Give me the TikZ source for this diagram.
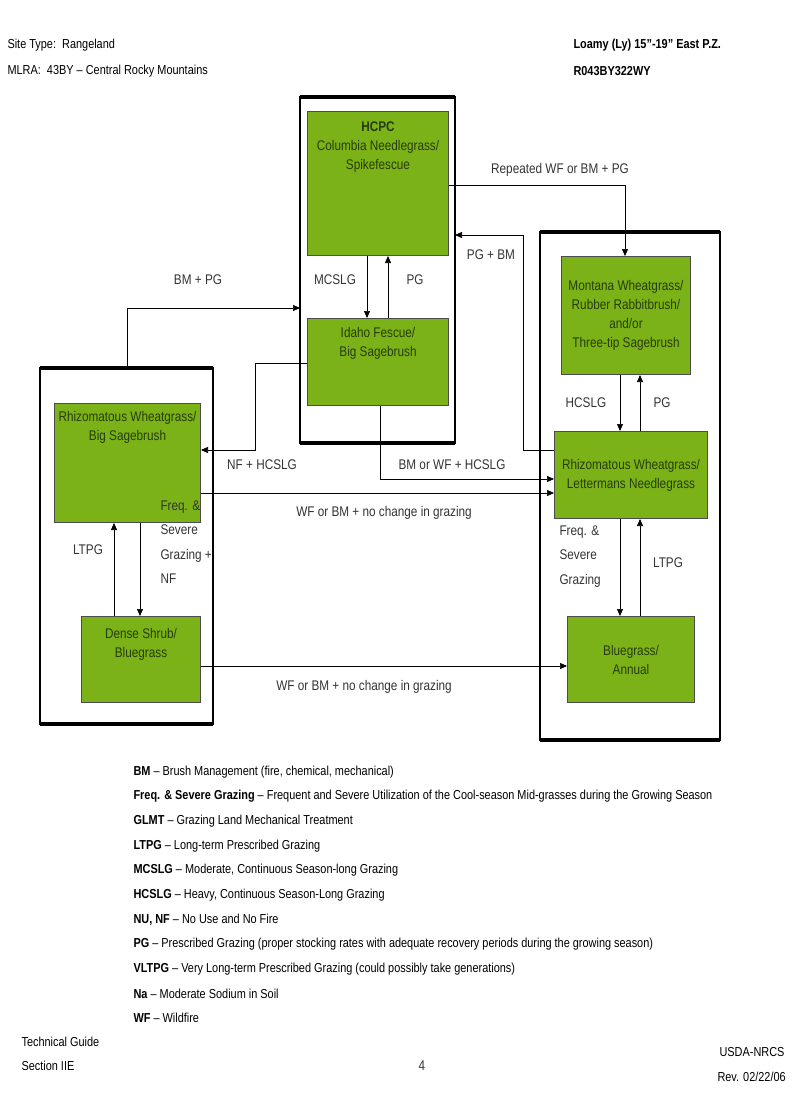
\documentclass[tikz,border=0pt]{standalone}
\usepackage{fontspec}
\setmainfont{Liberation Sans}[FakeStretch=0.84]
\usetikzlibrary{arrows.meta}
\definecolor{statefill}{RGB}{122,178,24}
\definecolor{statetext}{RGB}{40,60,10}
\tikzset{
  state/.style = {draw = black!70, fill = statefill, text = statetext, align = center, font = \fontsize{14}{19}\selectfont, line width = 1pt},
  phase/.style = {draw = black, line width = 1.6pt},
  tran/.style = {-{Triangle[length=7pt,width=6pt]}, line width = 0.6pt},
  lbl/.style = {font = \fontsize{14}{19}\selectfont, text = black!80},
  leg/.style = {anchor = west, font = \fontsize{13}{16}\selectfont}
}
\newcommand\phasebox[4]{%
  \draw [phase] (#1,#2) rectangle (#3,#4);
  \draw [line width = 4pt] (#1,#2) -- (#3,#2);
  \draw [line width = 4pt] (#1,#4) -- (#3,#4);
}
\begin{document}
\begin{tikzpicture}[x=1pt, y=-1pt]
\useasboundingbox (0,0) rectangle (800,1108);
% header
\node [leg] at (4,45) {Site Type:\ \ Rangeland};
\node [leg] at (4,71) {MLRA:\ \ 43BY -- Central Rocky Mountains};
\node [leg, font = \bfseries\fontsize{13}{16}\selectfont] at (570,45) {Loamy (Ly) 15”-19” East P.Z.};
\node [leg, font = \bfseries\fontsize{13}{16}\selectfont] at (570,71) {R043BY322WY};
% phases
\phasebox{300}{97}{455}{443}
\phasebox{540}{232}{720}{740}
\phasebox{40}{368}{213}{724}
% states
\node [state, minimum width = 141pt, minimum height = 144pt, anchor = north west] (hcpc) at (307,111) {\textbf{HCPC}\\Columbia Needlegrass/\\Spikefescue\\[56pt]};
\node [state, minimum width = 141pt, minimum height = 87pt, anchor = north west] (idaho) at (307,318) {Idaho Fescue/\\Big Sagebrush\\[22pt]};
\node [state, minimum width = 129pt, minimum height = 118pt, anchor = north west] (montana) at (561,256) {Montana Wheatgrass/\\Rubber Rabbitbrush/\\and/or\\Three-tip Sagebrush};
\node [state, minimum width = 153pt, minimum height = 87pt, anchor = north west] (letter) at (554,431) {Rhizomatous Wheatgrass/\\Lettermans Needlegrass};
\node [state, minimum width = 127pt, minimum height = 86pt, anchor = north west] (annual) at (567,616) {Bluegrass/\\Annual};
\node [state, minimum width = 146pt, minimum height = 119pt, anchor = north west] (rhizo) at (54,403) {Rhizomatous Wheatgrass/\\Big Sagebrush\\[56pt]};
\node [state, minimum width = 119pt, minimum height = 86pt, anchor = north west] (shrub) at (81,616) {Dense Shrub/\\Bluegrass\\[14pt]};
\coordinate (ctrleft) at (300,308);
\coordinate (ctrright) at (455,235);
\coordinate (leftop) at (127,368);
% transitions
\draw [tran] (hcpc.south -| 367,0) -- (idaho.north -| 367,0);
\draw [tran] (idaho.north -| 388,0) -- (hcpc.south -| 388,0);
\node [lbl] at (335,280) {MCSLG};
\node [lbl] at (415,280) {PG};
\draw [tran] (hcpc.east |- 0,185) -| (montana.north -| 625,0);
\node [lbl] at (560,170) {Repeated WF or BM + PG};
\draw [tran] (letter.west |- 0,450) -- (523,450) |- (ctrright);
\node [lbl] at (491,255) {PG + BM};
\draw [tran] (leftop) |- (ctrleft);
\node [lbl] at (198,280) {BM + PG};
\draw [tran] (idaho.west |- 0,363) -- (255,363) |- (rhizo.east |- 0,450);
\node [lbl] at (262,465) {NF + HCSLG};
\draw [tran] (idaho.south -| 380,0) |- (letter.west |- 0,479);
\node [lbl] at (452,465) {BM or WF + HCSLG};
\draw [tran] (rhizo.east |- 0,493) -- (letter.west |- 0,493);
\node [lbl] at (384,513) {WF or BM + no change in grazing};
\draw [tran] (rhizo.south -| 140,0) -- (shrub.north -| 140,0);
\draw [tran] (shrub.north -| 114,0) -- (rhizo.south -| 114,0);
\node [lbl] at (88,550) {LTPG};
\node [lbl, align = left, anchor = north west, font = \fontsize{14}{24.5}\selectfont] at (157,497) {Freq. \&\\Severe\\Grazing +\\NF};
\draw [tran] (shrub.east |- 0,666) -- (annual.west |- 0,666);
\node [lbl] at (364,687) {WF or BM + no change in grazing};
\draw [tran] (letter.north -| 640,0) -- (montana.south -| 640,0);
\draw [tran] (montana.south -| 620,0) -- (letter.north -| 620,0);
\node [lbl] at (586,403) {HCSLG};
\node [lbl] at (662,403) {PG};
\draw [tran] (letter.south -| 620,0) -- (annual.north -| 620,0);
\draw [tran] (annual.north -| 640,0) -- (letter.south -| 640,0);
\node [lbl, align = left, anchor = north west, font = \fontsize{14}{24.5}\selectfont] at (556,522) {Freq. \&\\Severe\\Grazing};
\node [lbl] at (668,563) {LTPG};
% legend
\foreach \k/\t [count = \i from 0] in {
  BM/{Brush Management (fire, chemical, mechanical)},
  Freq. \& Severe Grazing/Frequent and Severe Utilization of the Cool-season Mid-grasses during the Growing Season,
  GLMT/Grazing Land Mechanical Treatment,
  LTPG/Long-term Prescribed Grazing,
  MCSLG/{Moderate, Continuous Season-long Grazing},
  HCSLG/{Heavy, Continuous Season-Long Grazing},
  {NU, NF}/No Use and No Fire,
  PG/Prescribed Grazing (proper stocking rates with adequate recovery periods during the growing season),
  VLTPG/Very Long-term Prescribed Grazing (could possibly take generations),
  Na/Moderate Sodium in Soil,
  WF/Wildfire}
  \node [leg] at (130,772+\i*24.6) {\textbf{\k} -- \t};
% footer
\node [leg] at (18,1042) {Technical Guide};
\node [leg] at (18,1066) {Section IIE};
\node [lbl] at (422,1066) {4};
\node [leg] at (716,1052) {USDA-NRCS};
\node [leg] at (714,1077) {Rev. 02/22/06};
\end{tikzpicture}
\end{document}
